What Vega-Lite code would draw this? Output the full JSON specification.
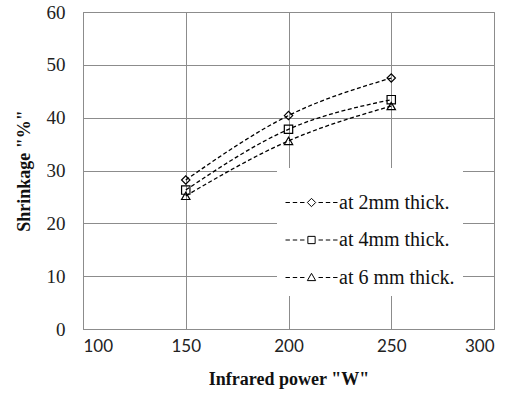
{
  "$schema": "https://vega.github.io/schema/vega-lite/v6.json",
  "width": 411,
  "height": 317,
  "autosize": {"type": "none"},
  "padding": {"left": 83, "top": 12, "right": 22, "bottom": 69},
  "background": "white",
  "config": {
    "view": {"stroke": "#8c8c8c", "strokeWidth": 1},
    "axis": {
      "grid": true,
      "gridColor": "#8c8c8c",
      "gridWidth": 1,
      "gridOpacity": 1,
      "domainColor": "#8c8c8c",
      "ticks": false,
      "labelColor": "#222222",
      "titleColor": "#111111",
      "titleFont": "Liberation Serif, Times New Roman, serif",
      "titleFontWeight": "bold",
      "titleFontSize": 18
    }
  },
  "data": {
    "values": [
      {"power": 150, "shrinkage": 28.2, "series": "at 2mm thick."},
      {"power": 200, "shrinkage": 40.4, "series": "at 2mm thick."},
      {"power": 250, "shrinkage": 47.5, "series": "at 2mm thick."},
      {"power": 150, "shrinkage": 26.3, "series": "at 4mm thick."},
      {"power": 200, "shrinkage": 37.8, "series": "at 4mm thick."},
      {"power": 250, "shrinkage": 43.4, "series": "at 4mm thick."},
      {"power": 150, "shrinkage": 25.2, "series": "at 6 mm thick."},
      {"power": 200, "shrinkage": 35.6, "series": "at 6 mm thick."},
      {"power": 250, "shrinkage": 42.2, "series": "at 6 mm thick."}
    ]
  },
  "encoding": {
    "x": {
      "field": "power",
      "type": "quantitative",
      "scale": {"domain": [100, 300], "nice": false, "zero": false},
      "axis": {
        "values": [100, 150, 200, 250, 300],
        "labelFont": "Lato",
        "labelFontSize": 17,
        "labelPadding": 9,
        "title": "Infrared power \"W\"",
        "titlePadding": 16
      }
    },
    "y": {
      "field": "shrinkage",
      "type": "quantitative",
      "scale": {"domain": [0, 60], "nice": false},
      "axis": {
        "values": [0, 10, 20, 30, 40, 50, 60],
        "labelFont": "Liberation Serif, Times New Roman, serif",
        "labelFontSize": 19,
        "labelPadding": 18,
        "title": "Shrinkage \"%\"",
        "titlePadding": 13
      }
    }
  },
  "layer": [
    {
      "mark": {"type": "line", "interpolate": "monotone", "strokeDash": [4, 2.5], "color": "black", "strokeWidth": 1.3},
      "encoding": {"detail": {"field": "series"}}
    },
    {
      "mark": {"type": "point", "filled": false, "color": "black", "size": 70, "strokeWidth": 1.2, "opacity": 1},
      "encoding": {
        "shape": {
          "field": "series",
          "scale": {"domain": ["at 2mm thick.", "at 4mm thick.", "at 6 mm thick."], "range": ["diamond", "square", "triangle-up"]},
          "legend": null
        }
      }
    },
    {
      "mark": {"type": "point", "filled": false, "color": "black", "size": 60, "strokeWidth": 1, "opacity": 0},
      "encoding": {
        "shape": {
          "field": "series",
          "scale": {
            "domain": ["at 2mm thick.", "at 4mm thick.", "at 6 mm thick."],
            "range": [
              "M-1,0H-0.83M-0.72,0H-0.55M-0.44,0H-0.27M-0.16,0L0,-0.16L0.16,0L0,0.16ZM0.27,0H0.44M0.55,0H0.72M0.83,0H1",
              "M-1,0H-0.83M-0.72,0H-0.55M-0.44,0H-0.27M-0.14,-0.14H0.14V0.14H-0.14ZM0.27,0H0.44M0.55,0H0.72M0.83,0H1",
              "M-1,0H-0.83M-0.72,0H-0.55M-0.44,0H-0.27M0,-0.16L0.16,0.12H-0.16ZM0.27,0H0.44M0.55,0H0.72M0.83,0H1"
            ]
          },
          "legend": {
            "orient": "none",
            "legendX": 194,
            "legendY": 156,
            "title": null,
            "fillColor": "white",
            "padding": 8,
            "labelFont": "Liberation Serif, Times New Roman, serif",
            "labelFontSize": 20,
            "labelColor": "#111111",
            "labelOffset": 1,
            "symbolSize": 2704,
            "symbolStrokeColor": "black",
            "symbolFillColor": "white",
            "symbolStrokeWidth": 1,
            "symbolOpacity": 1,
            "rowPadding": 0.5,
            "labelLimit": 300
          }
        }
      }
    }
  ],
  "resolve": {"scale": {"shape": "independent"}}
}
